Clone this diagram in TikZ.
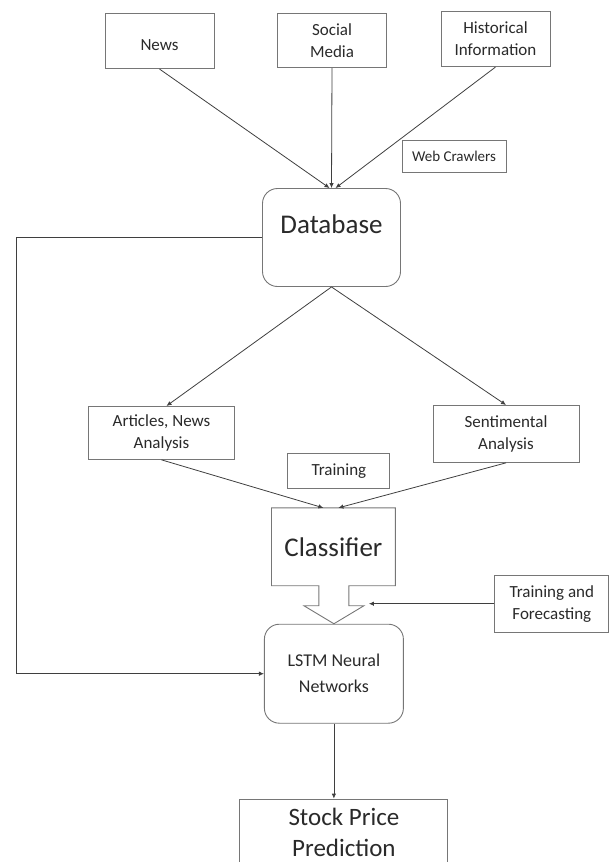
\documentclass[tikz,border=0pt]{standalone}
\usepackage{fontspec}
\setmainfont{Carlito}
\usepackage{xcolor}
\usepackage{tikz}
\usetikzlibrary{arrows.meta,positioning,calc}
\definecolor{boxgrey}{HTML}{767676}
\definecolor{linegrey}{HTML}{3F3F3F}
\definecolor{inkgrey}{HTML}{2A2A2A}

\begin{document}
\begin{tikzpicture}[
  x=1pt,y=1pt,
  font=\fontsize{17}{22}\selectfont,
  box/.style={draw=boxgrey,fill=white,align=center,inner sep=2pt,
              text=inkgrey,line width=0.9pt},
  src/.style={box,minimum width=109pt,minimum height=55pt},
  ana/.style={box,minimum width=146pt,minimum height=55pt},
  tag/.style={box,minimum width=104pt,minimum height=33pt},
  stage/.style={box,rounded corners=15pt,minimum width=138pt,minimum height=98pt},
  ar/.style={-{Latex[length=5pt,width=4.5pt]},draw=linegrey,line width=0.8pt}
]
\useasboundingbox (0,0) rectangle (608,-862);

\node[stage,font=\fontsize{27}{32}\selectfont] (db) at (331.5,-237.5) {Database\\[-6pt]};
\node[src,above=119pt of db,xshift=-172pt] (news) {\\[-4pt]News};
\node[src,above=120pt of db,xshift=0.5pt,minimum height=54pt] (social) {Social\\Media};
\node[src,above=121pt of db,xshift=164pt] (hist) {Historical\\Information};
\node[tag,below=73pt of hist,xshift=-41.5pt,minimum height=32pt,
      font=\fontsize{15}{18}\selectfont] (crawl) {Web Crawlers};
\node[ana,below=119pt of db,xshift=-170pt,minimum height=53pt] (art) {Articles, News\\Analysis};
\node[ana,below=118pt of db,xshift=174.5pt,minimum height=57pt] (sent) {Sentimental\\Analysis};
\node[tag,right=52.5pt of art,yshift=-38pt,minimum width=102pt,minimum height=35pt] (train) {Training};
\node[box,draw=none,fill=none,below=19pt of train,xshift=-5.5pt,minimum width=123pt,
      minimum height=77pt,font=\fontsize{27}{32}\selectfont] (clf) {Classifier};
\node[stage,below=38pt of clf,xshift=0.5pt,minimum width=139pt,minimum height=99pt,
      font=\fontsize{18}{26}\selectfont] (lstm) {LSTM Neural\\Networks};
\node[box,right=90.5pt of lstm,yshift=70pt,minimum width=114pt,minimum height=57pt] (tf) {Training and\\Forecasting};
\node[box,below=75pt of lstm,xshift=10pt,minimum width=208pt,minimum height=66pt,
      font=\fontsize{25}{31}\selectfont] (stock) {Stock Price\\Prediction};

% classifier block with its hollow arrow
\draw[draw=boxgrey,line width=0.9pt] (clf.south west) -- (clf.north west) -- (clf.north east)
  -- (clf.south east) -- ([xshift=15.5pt]clf.south) -- ++(0,-20) -- ++(15,0) coordinate (wing)
  -- ++(-30,-18) -- ++(-30,18) -- ++(15,0) -- ++(0,20) -- cycle;
\coordinate (fin) at ([xshift=5pt]wing);

\draw[ar] (news.south) -- ([xshift=-2pt]db.north);
\draw[ar] (social.south) -- (db.north);
\draw[ar] (hist.south) -- ([xshift=4pt]db.north);
\draw[ar] (db.south) -- ([xshift=5pt]art.north);
\draw[ar] (db.south) -- (sent.north);
\draw[ar] (art.south) -- ([xshift=-10pt]clf.north);
\draw[ar] (sent.south) -- ([xshift=5pt]clf.north);
\draw[ar] (tf.west) -- (fin |- tf.west);
\draw[ar] (lstm.south) -- (lstm.south |- stock.north);
\coordinate (L) at ([xshift=-246pt]db.west);
\draw[ar] (db.west) -- (L) -- (L |- lstm.west) -- (lstm.west);
\end{tikzpicture}
\end{document}
